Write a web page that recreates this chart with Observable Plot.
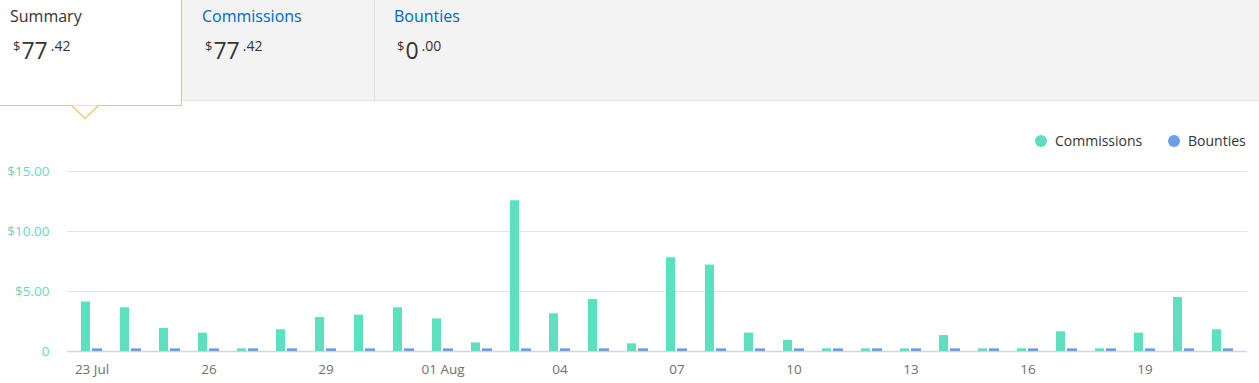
<!DOCTYPE html>
<html>
<head>
<meta charset="utf-8">
<script src="https://cdn.jsdelivr.net/npm/d3@7"></script>
<script src="https://cdn.jsdelivr.net/npm/@observablehq/plot@0.6"></script>
<style>
  html, body { margin: 0; padding: 0; background: #fff; }
  #page { position: relative; width: 1259px; height: 383px; overflow: hidden; font-family: "Open Sans", sans-serif; }
  .tabbar { position: absolute; left: 0; top: 0; width: 1259px; height: 100px; background: #f3f3f3; border-bottom: 1px solid #e3e3e3; }
  .divider { position: absolute; left: 374px; top: 0; width: 1px; height: 100px; background: #e0e0e0; }
  .active { position: absolute; left: 0; top: 0; width: 181px; height: 105px; background: #fff; border-right: 1px solid #f4c264; border-bottom: 1px solid #f4c264; }
  .caret { position: absolute; left: 0; top: 0; }
  .tabtitle { position: absolute; top: 8px; font-size: 16px; line-height: 16px; white-space: nowrap; }
  .val { position: absolute; top: 39px; white-space: nowrap; color: #333; line-height: 22px; }
  .val .cur { font-size: 13px; position: relative; top: -8px; margin-right: 1px; }
  .val .int { font-size: 23px; }
  .val .dec { font-size: 14px; position: relative; top: -8px; margin-left: 3px; }
  .legend { position: absolute; top: 131px; font-size: 14px; color: #333; line-height: 20px; white-space: nowrap; }
  .legend .dot { display: inline-block; width: 12px; height: 12px; border-radius: 50%; vertical-align: -1px; margin-right: 8px; }
  #chart { position: absolute; left: 0; top: 160px; }
  #chart g[aria-label^="y-axis"] text { fill: #6ad7bb; }
  #chart g[aria-label^="x-axis"] text { fill: #707070; }
</style>
</head>
<body>
<div id="page">
  <div class="tabbar"></div>
  <div class="divider"></div>
  <div class="active"></div>
  <svg class="caret" width="181" height="125"><polyline points="71.5,105.5 85,118.5 98.5,105.5" fill="#fff" stroke="#f4c264" stroke-width="1.2"/></svg>
  <div class="tabtitle" style="left:10px;color:#333">Summary</div>
  <div class="tabtitle" style="left:202px;color:#0066c0">Commissions</div>
  <div class="tabtitle" style="left:394px;color:#0066c0">Bounties</div>
  <div class="val" style="left:13px"><span class="cur">$</span><span class="int">77</span><span class="dec">.42</span></div>
  <div class="val" style="left:205px"><span class="cur">$</span><span class="int">77</span><span class="dec">.42</span></div>
  <div class="val" style="left:397px"><span class="cur">$</span><span class="int">0</span><span class="dec">.00</span></div>
  <div class="legend" style="left:1035px"><span class="dot" style="background:#5ddfbf"></span>Commissions</div>
  <div class="legend" style="left:1168px"><span class="dot" style="background:#6a9fe3"></span>Bounties</div>
  <div id="chart"></div>
</div>
<script>
// ---- data ----
const dates = ["23 Jul","24 Jul","25 Jul","26 Jul","27 Jul","28 Jul","29 Jul","30 Jul","31 Jul",
  "01 Aug","02 Aug","03 Aug","04 Aug","05 Aug","06 Aug","07 Aug","08 Aug","09 Aug","10 Aug",
  "11 Aug","12 Aug","13 Aug","14 Aug","15 Aug","16 Aug","17 Aug","18 Aug","19 Aug","20 Aug","21 Aug"];
const commissions = [4.12, 3.64, 1.92, 1.53, 0, 1.81, 2.83, 3.03, 3.64,
  2.72, 0.72, 12.56, 3.14, 4.33, 0.64, 7.81, 7.20, 1.53, 0.92,
  0, 0, 0, 1.33, 0, 0, 1.64, 0, 1.53, 4.50, 1.81];
const bounties = [0, 0, 0, 0, 0, 0, 0, 0, 0,
  0, 0, 0, 0, 0, 0, 0, 0, 0, 0,
  0, 0, 0, 0, 0, 0, 0, 0, 0, 0, 0];
const tickDates = ["23 Jul","26 Jul","29 Jul","01 Aug","04 Aug","07 Aug","10 Aug","13 Aug","16 Aug","19 Aug"];
const tickLabels = ["23 Jul","26","29","01 Aug","04","07","10","13","16","19"];
const yTicks = [0, 5, 10, 15];
const yTickLabels = ["0", "$5.00", "$10.00", "$15.00"];

// ---- chart ----
const minShown = 0.22; // zero values are still drawn as a thin stub
const commRows = dates.map((d, i) => ({date: d, value: commissions[i]}));
const bountyRows = dates.map((d, i) => ({date: d, value: bounties[i]}));

const chart = Plot.plot({
  width: 1259,
  height: 223,
  marginLeft: 67,
  marginRight: 12,
  marginTop: 11,
  marginBottom: 32,
  style: {fontFamily: "'Open Sans', sans-serif", fontSize: "13.5px", background: "transparent", overflow: "visible"},
  x: {
    type: "band", domain: dates, padding: 0,
    ticks: tickDates,
    tickFormat: d => tickLabels[tickDates.indexOf(d)] ?? "",
    tickSize: 0, tickPadding: 13, label: null
  },
  y: {
    domain: [0, 15],
    ticks: yTicks,
    tickFormat: d => yTickLabels[yTicks.indexOf(d)],
    tickSize: 0, tickPadding: 18, label: null
  },
  marks: [
    Plot.ruleY(yTicks.filter(t => t > 0), {stroke: "#e4e4e4", strokeWidth: 1}),
    Plot.ruleY([0], {stroke: "#d2d6de", strokeWidth: 1.5}),
    Plot.barY(commRows, {x: "date", y1: 0, y2: d => Math.max(d.value, minShown), fill: "#5ce1c0", insetLeft: 9, insetRight: 21}),
    Plot.barY(bountyRows, {x: "date", y1: 0, y2: d => Math.max(d.value, minShown), fill: "#6a9fe3", insetLeft: 20, insetRight: 9})
  ]
});
document.getElementById("chart").appendChild(chart);
</script>
</body>
</html>
